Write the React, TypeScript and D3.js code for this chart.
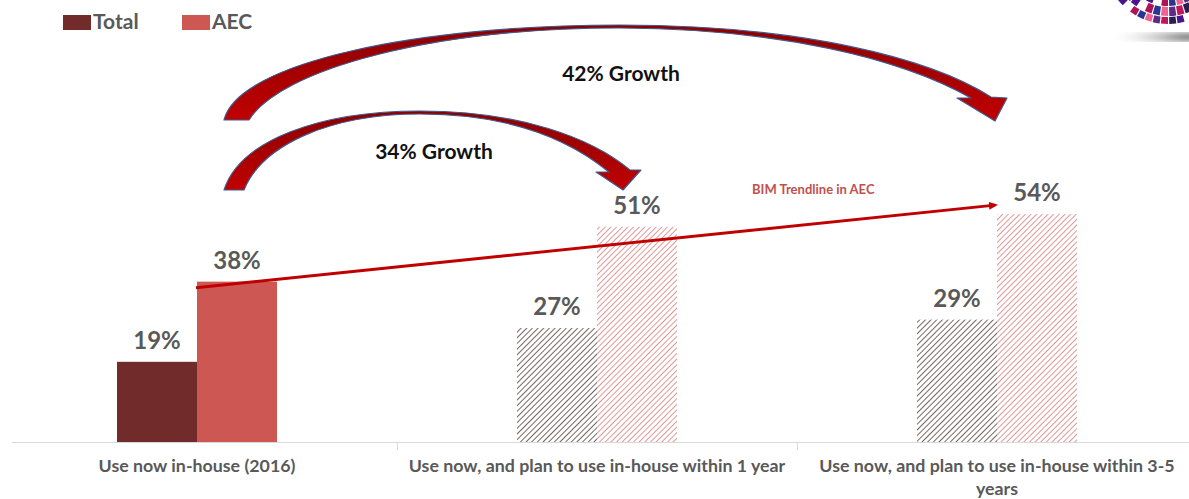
import React from "react";
import * as d3 from "d3";

const categories = [
  "Use now in-house (2016)",
  "Use now, and plan to use in-house within 1 year",
  "Use now, and plan to use in-house within 3-5 years",
];
const categoryLines = [
  ["Use now in-house (2016)"],
  ["Use now, and plan to use in-house within 1 year"],
  ["Use now, and plan to use in-house within 3-5", "years"],
];
const seriesNames = ["Total", "AEC"];
const totalValues = [19, 27, 29];
const aecValues = [38, 51, 54];
const growthLabels = ["34% Growth", "42% Growth"];
const trendLabel = "BIM Trendline in AEC";

const W = 1189;
const H = 499;
const FONT = "Lato, 'Open Sans', sans-serif";

export default function App() {
  const x = d3.scaleBand<string>().domain(categories).range([-3, 1197]).paddingInner(0).paddingOuter(0);
  const y = d3.scaleLinear().domain([0, 100]).range([442, 20]);
  const bw = 80;
  const center = (i: number) => (x(categories[i]) as number) + x.bandwidth() / 2;

  const solidColors = ["#722b2b", "#cd5753"];

  // decorative disc top-right
  const discColors = ["#2b1d4f", "#c2185b", "#5e2a84", "#f06292", "#283593", "#ad1457", "#ffffff", "#4a148c"];
  const discArc = d3.arc();
  const wedges: { d: string; c: string }[] = [];
  const rings = [[20, 34], [35, 46], [47, 56], [57, 64]];
  rings.forEach((r, ri) => {
    const n = 30 + ri * 6;
    for (let k = 0; k < n; k++) {
      const a0 = (k / n) * Math.PI * 2;
      const a1 = ((k + 0.85) / n) * Math.PI * 2;
      wedges.push({
        d: discArc({ innerRadius: r[0], outerRadius: r[1], startAngle: a0, endAngle: a1 }) as string,
        c: discColors[(k + ri * 3) % discColors.length],
      });
    }
  });

  const t0 = { x: center(0) - 1, y: y(aecValues[0]) + 6 };
  const t1 = { x: center(2) - 2, y: y(aecValues[2]) - 9 };

  const outerArrow =
    "M 224,120 C 238,62 420,25 620,25 C 800,25 930,58 991,97 L 1007,98 L 995,121 L 957,98 L 971,98 " +
    "C 900,58 780,29 620,28 C 430,28 280,70 249,120 Z";
  const innerArrow =
    "M 224,190 C 240,140 320,111 420,111 C 520,111 592,138 630,170 L 641,170 L 623,190 L 596,172 L 609,172 " +
    "C 570,140 510,114 420,114 C 330,114 262,145 244,190 Z";

  return (
    <svg
      width={W}
      height={H}
      style={{ position: "fixed", left: 0, top: 0, background: "#fff" }}
      fontFamily={FONT}
    >
      <defs>
        <pattern id="hatchTotal" width="4" height="4" patternUnits="userSpaceOnUse" patternTransform="rotate(45)">
          <rect width="4" height="4" fill="#ffffff" />
          <line x1="0" y1="0" x2="0" y2="4" stroke="#6f5f5f" strokeWidth="1.9" />
        </pattern>
        <pattern id="hatchAEC" width="4" height="4" patternUnits="userSpaceOnUse" patternTransform="rotate(45)">
          <rect width="4" height="4" fill="#ffffff" />
          <line x1="0" y1="0" x2="0" y2="4" stroke="#de9391" strokeWidth="1.9" />
        </pattern>
        <linearGradient id="arrowFill" x1="0" y1="0" x2="0" y2="1">
          <stop offset="0" stopColor="#8c0000" />
          <stop offset="1" stopColor="#c00000" />
        </linearGradient>
        <linearGradient id="shadowG" x1="0" y1="0" x2="1" y2="0">
          <stop offset="0" stopColor="#ffffff" stopOpacity="0" />
          <stop offset="0.7" stopColor="#555" stopOpacity="0.8" />
          <stop offset="1" stopColor="#222" stopOpacity="0.9" />
        </linearGradient>
        <marker id="trendHead" markerWidth="9" markerHeight="8" refX="6" refY="4" orient="auto" markerUnits="userSpaceOnUse">
          <path d="M0,0 L9,4 L0,8 Z" fill="#c00000" />
        </marker>
        <filter id="blur4"><feGaussianBlur stdDeviation="3" /></filter>
      </defs>

      {/* decorative disc */}
      <ellipse cx={1160} cy={37} rx={55} ry={4} fill="url(#shadowG)" filter="url(#blur4)" />
      <g transform="translate(1168,-40)">
        {wedges.map((w, i) => (
          <path key={i} d={w.d} fill={w.c} />
        ))}
      </g>

      {/* legend */}
      {seriesNames.map((s, i) => {
        const lx = [63, 182][i];
        return (
          <g key={s}>
            <rect x={lx} y={15} width={28} height={15} fill={solidColors[i]} />
            <text x={lx + 30} y={29} fontSize={21} fontWeight={700} fill="#595959">
              {s}
            </text>
          </g>
        );
      })}

      {/* axis */}
      <line x1={12} x2={W} y1={442.5} y2={442.5} stroke="#d9d9d9" strokeWidth={1.2} />
      {[1, 2].map((i) => {
        const xx = Math.round(x(categories[i]) as number) + 0.5;
        return <line key={i} x1={xx} x2={xx} y1={442} y2={450} stroke="#d9d9d9" />;
      })}

      {/* bars */}
      {categories.map((c, i) => {
        const cx = center(i);
        const solid = i === 0;
        return (
          <g key={c}>
            <rect
              x={cx - bw}
              y={y(totalValues[i])}
              width={bw}
              height={y(0) - y(totalValues[i])}
              fill={solid ? solidColors[0] : "url(#hatchTotal)"}
            />
            <rect
              x={cx}
              y={y(aecValues[i])}
              width={bw}
              height={y(0) - y(aecValues[i])}
              fill={solid ? solidColors[1] : "url(#hatchAEC)"}
            />
            <text x={cx - bw / 2} y={y(totalValues[i]) - 13} textAnchor="middle" fontSize={24} fontWeight={700} fill="#595959">
              {totalValues[i]}%
            </text>
            <text x={cx + bw / 2} y={y(aecValues[i]) - 13} textAnchor="middle" fontSize={24} fontWeight={700} fill="#595959">
              {aecValues[i]}%
            </text>
            {categoryLines[i].map((ln, k) => (
              <text key={k} x={cx} y={472 + k * 23} textAnchor="middle" fontSize={17.8} fontWeight={700} fill="#595959">
                {ln}
              </text>
            ))}
          </g>
        );
      })}

      {/* trend line */}
      <line x1={t0.x} y1={t0.y} x2={t1.x} y2={t1.y} stroke="#c00000" strokeWidth={3} markerEnd="url(#trendHead)" />
      <text x={752} y={194} fontSize={13} fontWeight={700} fill="#c0504d">
        {trendLabel}
      </text>

      {/* growth arrows */}
      <path d={outerArrow} fill="url(#arrowFill)" stroke="#3f5b8c" strokeWidth={1.2} strokeLinejoin="round" />
      <path d={innerArrow} fill="url(#arrowFill)" stroke="#3f5b8c" strokeWidth={1.2} strokeLinejoin="round" />
      <text x={621} y={81} textAnchor="middle" fontSize={21} fontWeight={700} fill="#111">
        {growthLabels[1]}
      </text>
      <text x={434} y={159} textAnchor="middle" fontSize={21} fontWeight={700} fill="#111">
        {growthLabels[0]}
      </text>
    </svg>
  );
}
